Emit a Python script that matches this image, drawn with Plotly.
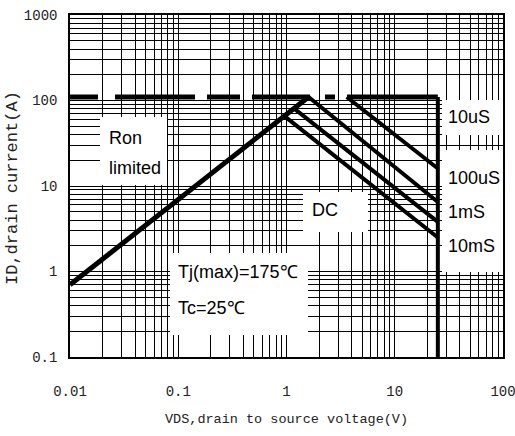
import plotly.graph_objects as go

# ---- data ----
ron_v = [0.01, 1.6]
ron_i = [0.7, 110]
limit_v = [0.01, 25]
limit_i = [110, 110]
vmax_v = [25, 25]
vmax_i = [110, 0.1]
t10us_v = [3.6, 25]
t10us_i = [110, 16]
t100us_v = [1.6, 25]
t100us_i = [110, 6.5]
t1ms_v = [1.17, 25]
t1ms_i = [81, 3.8]
t10ms_v = [0.95, 25]
t10ms_i = [66, 2.5]

x_tickvals = [0.01, 0.1, 1, 10, 100]
x_ticktext = ["0.01", "0.1", "1", "10", "100"]
y_tickvals = [0.1, 1, 10, 100, 1000]
y_ticktext = ["0.1", "1", "10", "100", "1000"]

# ---- layout geometry (pixels) ----
W, H = 515, 436
L, R, T, B = 70, 503, 15, 357


def px(x):
    return (x - L) / (R - L)


def py(y):
    return (B - y) / (B - T)


fig = go.Figure()

def add_line(xv, yv, width=4, dash="solid"):
    fig.add_trace(go.Scatter(x=xv, y=yv, mode="lines",
                             line=dict(color="black", width=width, dash=dash),
                             showlegend=False, hoverinfo="skip"))

add_line(limit_v, limit_i, 5, "28px,17px,80px,12px,33px,12px,58px,15px,10px,12px,400px")
add_line(vmax_v, vmax_i, 4)
add_line(ron_v, ron_i, 5)
add_line(t10us_v, t10us_i, 4)
add_line(t100us_v, t100us_i, 4)
add_line(t1ms_v, t1ms_i, 4)
add_line(t10ms_v, t10ms_i, 4)

# white label boxes (cover the grid; they do not overlap the curves)
boxes = [
    (100, 117, 167, 185),
    (303, 192, 368, 232),
    (170, 253, 308, 335),
    (442, 100, 503, 135),
    (442, 150, 503, 272),
]
for x0, y0, x1, y1 in boxes:
    fig.add_shape(type="rect", xref="paper", yref="paper",
                  x0=px(x0), x1=px(x1), y0=py(y1), y1=py(y0),
                  fillcolor="white", line=dict(width=0), layer="above")

lab_font = dict(family="Liberation Sans, Arial", size=18, color="black")
labels = [
    ("Ron", 107, 138),
    ("limited", 107, 168),
    ("10uS", 446, 117),
    ("100uS", 446, 178),
    ("1mS", 446, 212),
    ("10mS", 446, 246),
    ("DC", 310, 210),
    ("Tj(max)=175℃", 176, 272),
    ("Tc=25℃", 176, 308),
]
for txt, x, y in labels:
    fig.add_annotation(text=txt, xref="paper", yref="paper", x=px(x), y=py(y),
                       xanchor="left", yanchor="middle", showarrow=False, font=lab_font)

mono = "Liberation Mono, Courier New, monospace"
fig.add_annotation(text="VDS,drain to source voltage(V)", xref="paper", yref="paper",
                   x=px(286), y=py(420), xanchor="center", yanchor="middle",
                   showarrow=False, font=dict(family=mono, size=13.5, color="#222"))
fig.add_annotation(text="ID,drain current(A)", xref="paper", yref="paper",
                   x=px(13), y=py(188), xanchor="center", yanchor="middle", textangle=-90,
                   showarrow=False, font=dict(family=mono, size=17, color="#222"))

minor_vals = [k * 10 ** e for e in range(-2, 3) for k in range(2, 10)]

axis_common = dict(type="log", showline=True, linecolor="black", linewidth=1.5, mirror=True,
                   showgrid=True, gridcolor="black", gridwidth=1.2, zeroline=False,
                   automargin=False, ticklabeloverflow="allow",
                   ticks="", tickfont=dict(family=mono, size=14, color="#222"),
                   minor=dict(showgrid=True, gridcolor="black", gridwidth=1,
                              tickmode="array", tickvals=minor_vals))

fig.update_xaxes(range=[-2, 2], tickmode="array", tickvals=x_tickvals, ticktext=x_ticktext,
                 ticklabelstandoff=20, **axis_common)
fig.update_yaxes(range=[-1, 3], tickmode="array", tickvals=y_tickvals, ticktext=y_ticktext,
                 ticklabelstandoff=8, **axis_common)

fig.update_layout(width=W, height=H, margin=dict(l=L, r=W - R, t=T, b=H - B),
                  plot_bgcolor="white", paper_bgcolor="white")

fig.write_html("out.html")
